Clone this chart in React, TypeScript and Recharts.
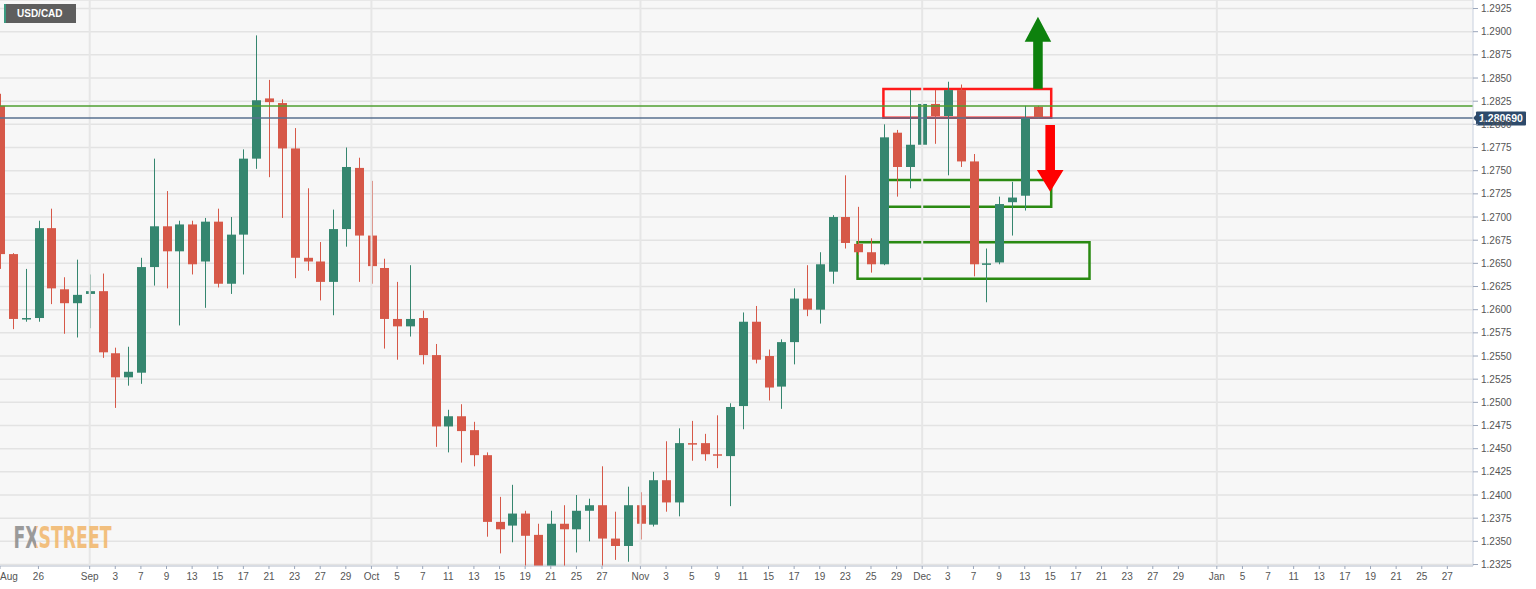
import React from 'react';
import {
  ComposedChart, Bar, XAxis, YAxis, CartesianGrid, ReferenceLine, ReferenceArea,
} from 'recharts';

// ---- Data (USD/CAD daily, Aug 23 2021 -> Dec 14 2021) ----
const dates = [
  '08-23','08-24','08-25','08-26','08-27','08-30','08-31','09-01','09-02','09-03',
  '09-06','09-07','09-08','09-09','09-10','09-13','09-14','09-15','09-16','09-17',
  '09-20','09-21','09-22','09-23','09-24','09-27','09-28','09-29','09-30','10-01',
  '10-04','10-05','10-06','10-07','10-08','10-11','10-12','10-13','10-14','10-15',
  '10-18','10-19','10-20','10-21','10-22','10-25','10-26','10-27','10-28','10-29',
  '11-01','11-02','11-03','11-04','11-05','11-08','11-09','11-10','11-11','11-12',
  '11-15','11-16','11-17','11-18','11-19','11-22','11-23','11-24','11-25','11-26',
  '11-29','11-30','12-01','12-02','12-03','12-06','12-07','12-08','12-09','12-10',
  '12-13','12-14',
];
const opens = [
  1.2820,1.2660,1.2590,1.2591,1.2688,1.2622,1.2607,1.2617,1.2620,1.2553,
  1.2527,1.2532,1.2646,1.2690,1.2663,1.2692,1.2652,1.2695,1.2628,1.2681,
  1.2763,1.2828,1.2823,1.2774,1.2656,1.2652,1.2630,1.2687,1.2753,1.2680,
  1.2645,1.2590,1.2582,1.2591,1.2551,1.2474,1.2485,1.2470,1.2443,1.2371,
  1.2367,1.2380,1.2357,1.2310,1.2369,1.2363,1.2383,1.2389,1.2353,1.2345,
  1.2389,1.2368,1.2416,1.2392,1.2456,1.2456,1.2444,1.2442,1.2496,1.2587,
  1.2550,1.2517,1.2565,1.2612,1.2600,1.2641,1.2700,1.2671,1.2662,1.2649,
  1.2791,1.2754,1.2778,1.2822,1.2809,1.2837,1.2760,1.2649,1.2651,1.2716,
  1.2723,1.2819,
];
const highs = [
  1.2833,1.2661,1.2644,1.2696,1.2709,1.2635,1.2654,1.2638,1.2639,1.2559,
  1.2560,1.2656,1.2763,1.2728,1.2696,1.2696,1.2699,1.2709,1.2700,1.2773,
  1.2896,1.2848,1.2827,1.2796,1.2731,1.2673,1.2708,1.2775,1.2764,1.2739,
  1.2655,1.2630,1.2648,1.2599,1.2563,1.2492,1.2498,1.2479,1.2446,1.2398,
  1.2411,1.2383,1.2369,1.2383,1.2389,1.2400,1.2396,1.2431,1.2382,1.2409,
  1.2403,1.2425,1.2458,1.2472,1.2480,1.2466,1.2486,1.2499,1.2597,1.2604,
  1.2557,1.2568,1.2623,1.2648,1.2662,1.2702,1.2745,1.2711,1.2677,1.2800,
  1.2794,1.2837,1.2829,1.2837,1.2846,1.2843,1.2768,1.2666,1.2722,1.2738,
  1.2820,1.2820,
];
const lows = [
  1.2644,1.2579,1.2587,1.2587,1.2606,1.2574,1.2570,1.2580,1.2548,1.2494,
  1.2518,1.2520,1.2626,1.2623,1.2583,1.2638,1.2602,1.2624,1.2617,1.2638,
  1.2752,1.2743,1.2699,1.2634,1.2642,1.2610,1.2594,1.2668,1.2630,1.2628,
  1.2558,1.2546,1.2571,1.2541,1.2452,1.2446,1.2435,1.2431,1.2355,1.2337,
  1.2349,1.2300,1.2290,1.2288,1.2310,1.2338,1.2350,1.2318,1.2330,1.2328,
  1.2352,1.2366,1.2382,1.2377,1.2437,1.2437,1.2429,1.2388,1.2471,1.2542,
  1.2502,1.2493,1.2541,1.2593,1.2585,1.2628,1.2666,1.2659,1.2640,1.2648,
  1.2722,1.2731,1.2713,1.2779,1.2745,1.2754,1.2636,1.2608,1.2649,1.2680,
  1.2707,1.2806,
];
const closes = [
  1.2660,1.2590,1.2591,1.2688,1.2623,1.2607,1.2616,1.2620,1.2554,1.2527,
  1.2533,1.2646,1.2690,1.2663,1.2692,1.2649,1.2695,1.2628,1.2681,1.2763,
  1.2826,1.2824,1.2774,1.2656,1.2652,1.2630,1.2687,1.2754,1.2680,1.2647,
  1.2590,1.2582,1.2590,1.2551,1.2474,1.2485,1.2469,1.2443,1.2371,1.2363,
  1.2380,1.2356,1.2310,1.2369,1.2363,1.2383,1.2389,1.2353,1.2345,1.2389,
  1.2369,1.2416,1.2392,1.2456,1.2455,1.2444,1.2443,1.2495,1.2587,1.2546,
  1.2516,1.2565,1.2612,1.2600,1.2649,1.2700,1.2672,1.2662,1.2649,1.2786,
  1.2754,1.2778,1.2822,1.2809,1.2837,1.2760,1.2649,1.2650,1.2714,1.2721,
  1.2807,1.28069,
];

// x-axis ticks (trading-day index -> label)
const xTickIdx = [0,3,7,9,11,13,15,17,19,21,23,25,27,29,31,33,35,37,39,41,43,45,47,
  50,52,54,56,58,60,62,64,66,68,70,72,74,76,78,80,82,84,86,88,90,92,
  95,97,99,101,103,105,107,109,111,113];
const xTickLabels = ['Aug','26','Sep','3','7','9','13','15','17','21','23','27','29','Oct','5','7','11','13','15','19','21','25','27',
  'Nov','3','5','9','11','15','17','19','23','25','29','Dec','3','7','9','13','15','17','21','23','27','29',
  'Jan','5','7','11','13','17','19','21','25','27'];
const monthStarts = [7, 29, 50, 72, 95];

const yTicks = [1.2325,1.2350,1.2375,1.2400,1.2425,1.2450,1.2475,1.2500,1.2525,1.2550,1.2575,1.2600,
  1.2625,1.2650,1.2675,1.2700,1.2725,1.2750,1.2775,1.2800,1.2825,1.2850,1.2875,1.2900,1.2925];

const currentPrice = 1.28069;
const resistanceLine = 1.28198;

const redBox = { x1: 68.97, x2: 82.07, y1: 1.28072, y2: 1.28381 };
const greenBoxes = [
  { x1: 68.97, x2: 82.07, y1: 1.27111, y2: 1.27399 },
  { x1: 66.95, x2: 85.06, y1: 1.26334, y2: 1.26727 },
];
const upArrow = { x1: 80.0, x2: 82.07, base: 1.28384, headBase: 1.28892, tip: 1.29162 };
const downArrow = { x1: 80.95, x2: 83.03, base: 1.27993, headBase: 1.27508, tip: 1.27273 };

const GREEN = '#35866f';
const RED = '#d65848';

const candles = dates.map((d, i) => ({
  i, date: d, open: opens[i], high: highs[i], low: lows[i], close: closes[i],
}));

const Candle = (props: any) => {
  const { x, y, width, height, payload } = props;
  if (!payload) return null;
  const top = Math.min(y, y + height);
  const bot = Math.max(y, y + height);
  const { open, close, high, low } = payload;
  const span = high - low;
  const toPx = (v: number) => (span === 0 ? top : top + ((high - v) / span) * (bot - top));
  const up = close >= open;
  const color = up ? GREEN : RED;
  const bTop = toPx(Math.max(open, close));
  const bBot = toPx(Math.min(open, close));
  const cx = Math.round(x + width / 2) + 0.5;
  return (
    <g>
      <line x1={cx} x2={cx} y1={top} y2={bot} stroke={color} strokeWidth={1} />
      <rect x={cx - width / 2} y={bTop} width={width} height={Math.max(bBot - bTop, 1.5)} fill={color} />
    </g>
  );
};

const makeArrowShape = (a: typeof upArrow, color: string, pointUp: boolean) => (p: any) => {
  const { x, y, width, height } = p;
  const topV = pointUp ? a.tip : a.base;
  const botV = pointUp ? a.base : a.tip;
  const toPx = (v: number) => y + ((topV - v) / (topV - botV)) * height;
  const cx = x + width / 2;
  const sw = width * 0.36;
  const hb = toPx(a.headBase);
  const tipY = toPx(a.tip);
  const baseY = toPx(a.base);
  const pts = [
    [cx - sw / 2, baseY], [cx - sw / 2, hb], [x, hb], [cx, tipY],
    [x + width, hb], [cx + sw / 2, hb], [cx + sw / 2, baseY],
  ].map((q) => q.join(',')).join(' ');
  return <polygon points={pts} fill={color} />;
};

const XTick = (props: any) => {
  const { x, y, payload } = props;
  const k = xTickIdx.indexOf(payload.value);
  const label = k >= 0 ? xTickLabels[k] : '';
  const first = payload.value === 0;
  return (
    <text x={first ? 0 : x} y={y} dy="0.71em" textAnchor={first ? 'start' : 'middle'}
      fill="#555" fontSize={10} fontFamily="Liberation Sans, Arial, sans-serif">{label}</text>
  );
};

const PriceLabel = (props: any) => {
  const vb = props.viewBox || {};
  const lx = (vb.x || 0) + (vb.width || 0);
  const ly = vb.y || 0;
  return (
    <g>
      <polygon points={`${lx},${ly} ${lx + 4},${ly - 4} ${lx + 4},${ly + 4}`} fill="#2d4a6b" />
      <rect x={lx + 3} y={ly - 6.5} width={50} height={14} fill="#2d4a6b" rx={1} />
      <text x={lx + 28} y={ly + 4} textAnchor="middle" fill="#fff" fontSize={10.5} fontWeight="bold"
        fontFamily="Liberation Sans, Arial, sans-serif">{currentPrice.toFixed(6)}</text>
    </g>
  );
};

export default function App() {
  return (
    <div style={{ position: 'absolute', left: 0, top: 0, width: 1536, height: 589, background: '#fff' }}>
      <ComposedChart width={1536} height={589} data={candles} margin={{ top: 0, right: 0, left: 0, bottom: 0 }}>
        <CartesianGrid vertical={false} stroke="#e3e3e3" strokeWidth={1.5} fill="#f7f7f7" />
        <XAxis dataKey="i" type="number" domain={[0, 115]} ticks={xTickIdx} interval={0}
          allowDataOverflow height={23} tickSize={3} tickMargin={4}
          stroke="#c8d0de" tick={<XTick />} tickLine={{ stroke: '#9aa6ba' }} />
        <YAxis orientation="right" type="number" domain={[1.23234, 1.29342]} ticks={yTicks}
          interval={0} allowDataOverflow width={63} tickSize={5} tickMargin={3}
          stroke="#c8d0de" tickLine={{ stroke: '#9aa6ba' }}
          tick={{ fill: '#555', fontSize: 10, fontFamily: 'Liberation Sans, Arial, sans-serif' }}
          tickFormatter={(v: number) => v.toFixed(4)} />
        {monthStarts.map((m) => (
          <ReferenceLine key={'m' + m} x={m} stroke="#e6e6e6" strokeWidth={2} />
        ))}
        <Bar dataKey={(d: any) => [d.low, d.high]} barSize={9} shape={<Candle />} isAnimationActive={false} />
        <ReferenceLine y={resistanceLine} stroke="#4f9f31" strokeWidth={1.3} />
        <ReferenceLine y={currentPrice} stroke="#58708f" strokeWidth={1.6} label={<PriceLabel />} />
        <ReferenceArea x1={redBox.x1} x2={redBox.x2} y1={redBox.y1} y2={redBox.y2}
          fill="none" fillOpacity={0} stroke="#ff1a1a" strokeWidth={2.5} />
        {greenBoxes.map((b, k) => (
          <ReferenceArea key={'g' + k} x1={b.x1} x2={b.x2} y1={b.y1} y2={b.y2}
            fill="none" fillOpacity={0} stroke="#2a8a12" strokeWidth={2.5} />
        ))}
        <ReferenceArea x1={upArrow.x1} x2={upArrow.x2} y1={upArrow.base} y2={upArrow.tip}
          shape={makeArrowShape(upArrow, '#0d810d', true)} />
        <ReferenceArea x1={downArrow.x1} x2={downArrow.x2} y1={downArrow.tip} y2={downArrow.base}
          shape={makeArrowShape(downArrow as any, '#ff0000', false)} />
      </ComposedChart>
      <div style={{
        position: 'absolute', left: 4, top: 4, width: 72, height: 19, background: '#5e5e5e',
        borderLeft: '2px solid #3a9a80', boxSizing: 'border-box', color: '#fff',
        fontFamily: 'Liberation Sans, Arial, sans-serif', fontSize: 10, fontWeight: 'bold',
        lineHeight: '19px', paddingLeft: 11,
      }}>USD/CAD</div>
      <svg style={{ position: 'absolute', left: 0, top: 0, pointerEvents: 'none' }} width={200} height={589}>
        <defs>
          <linearGradient id="wm" gradientUnits="userSpaceOnUse" x1={13.5} y1={0} x2={111.5} y2={0}>
            <stop offset="0.228" stopColor="#8a8a8a" />
            <stop offset="0.228" stopColor="#f2b66a" />
          </linearGradient>
        </defs>
        <text x={13.5} y={548} fill="url(#wm)" fontFamily="DejaVu Sans Condensed, DejaVu Sans, sans-serif"
          fontWeight="bold" fontSize={31} opacity={0.85} textLength={98} lengthAdjust="spacingAndGlyphs">FXSTREET</text>
      </svg>
    </div>
  );
}
